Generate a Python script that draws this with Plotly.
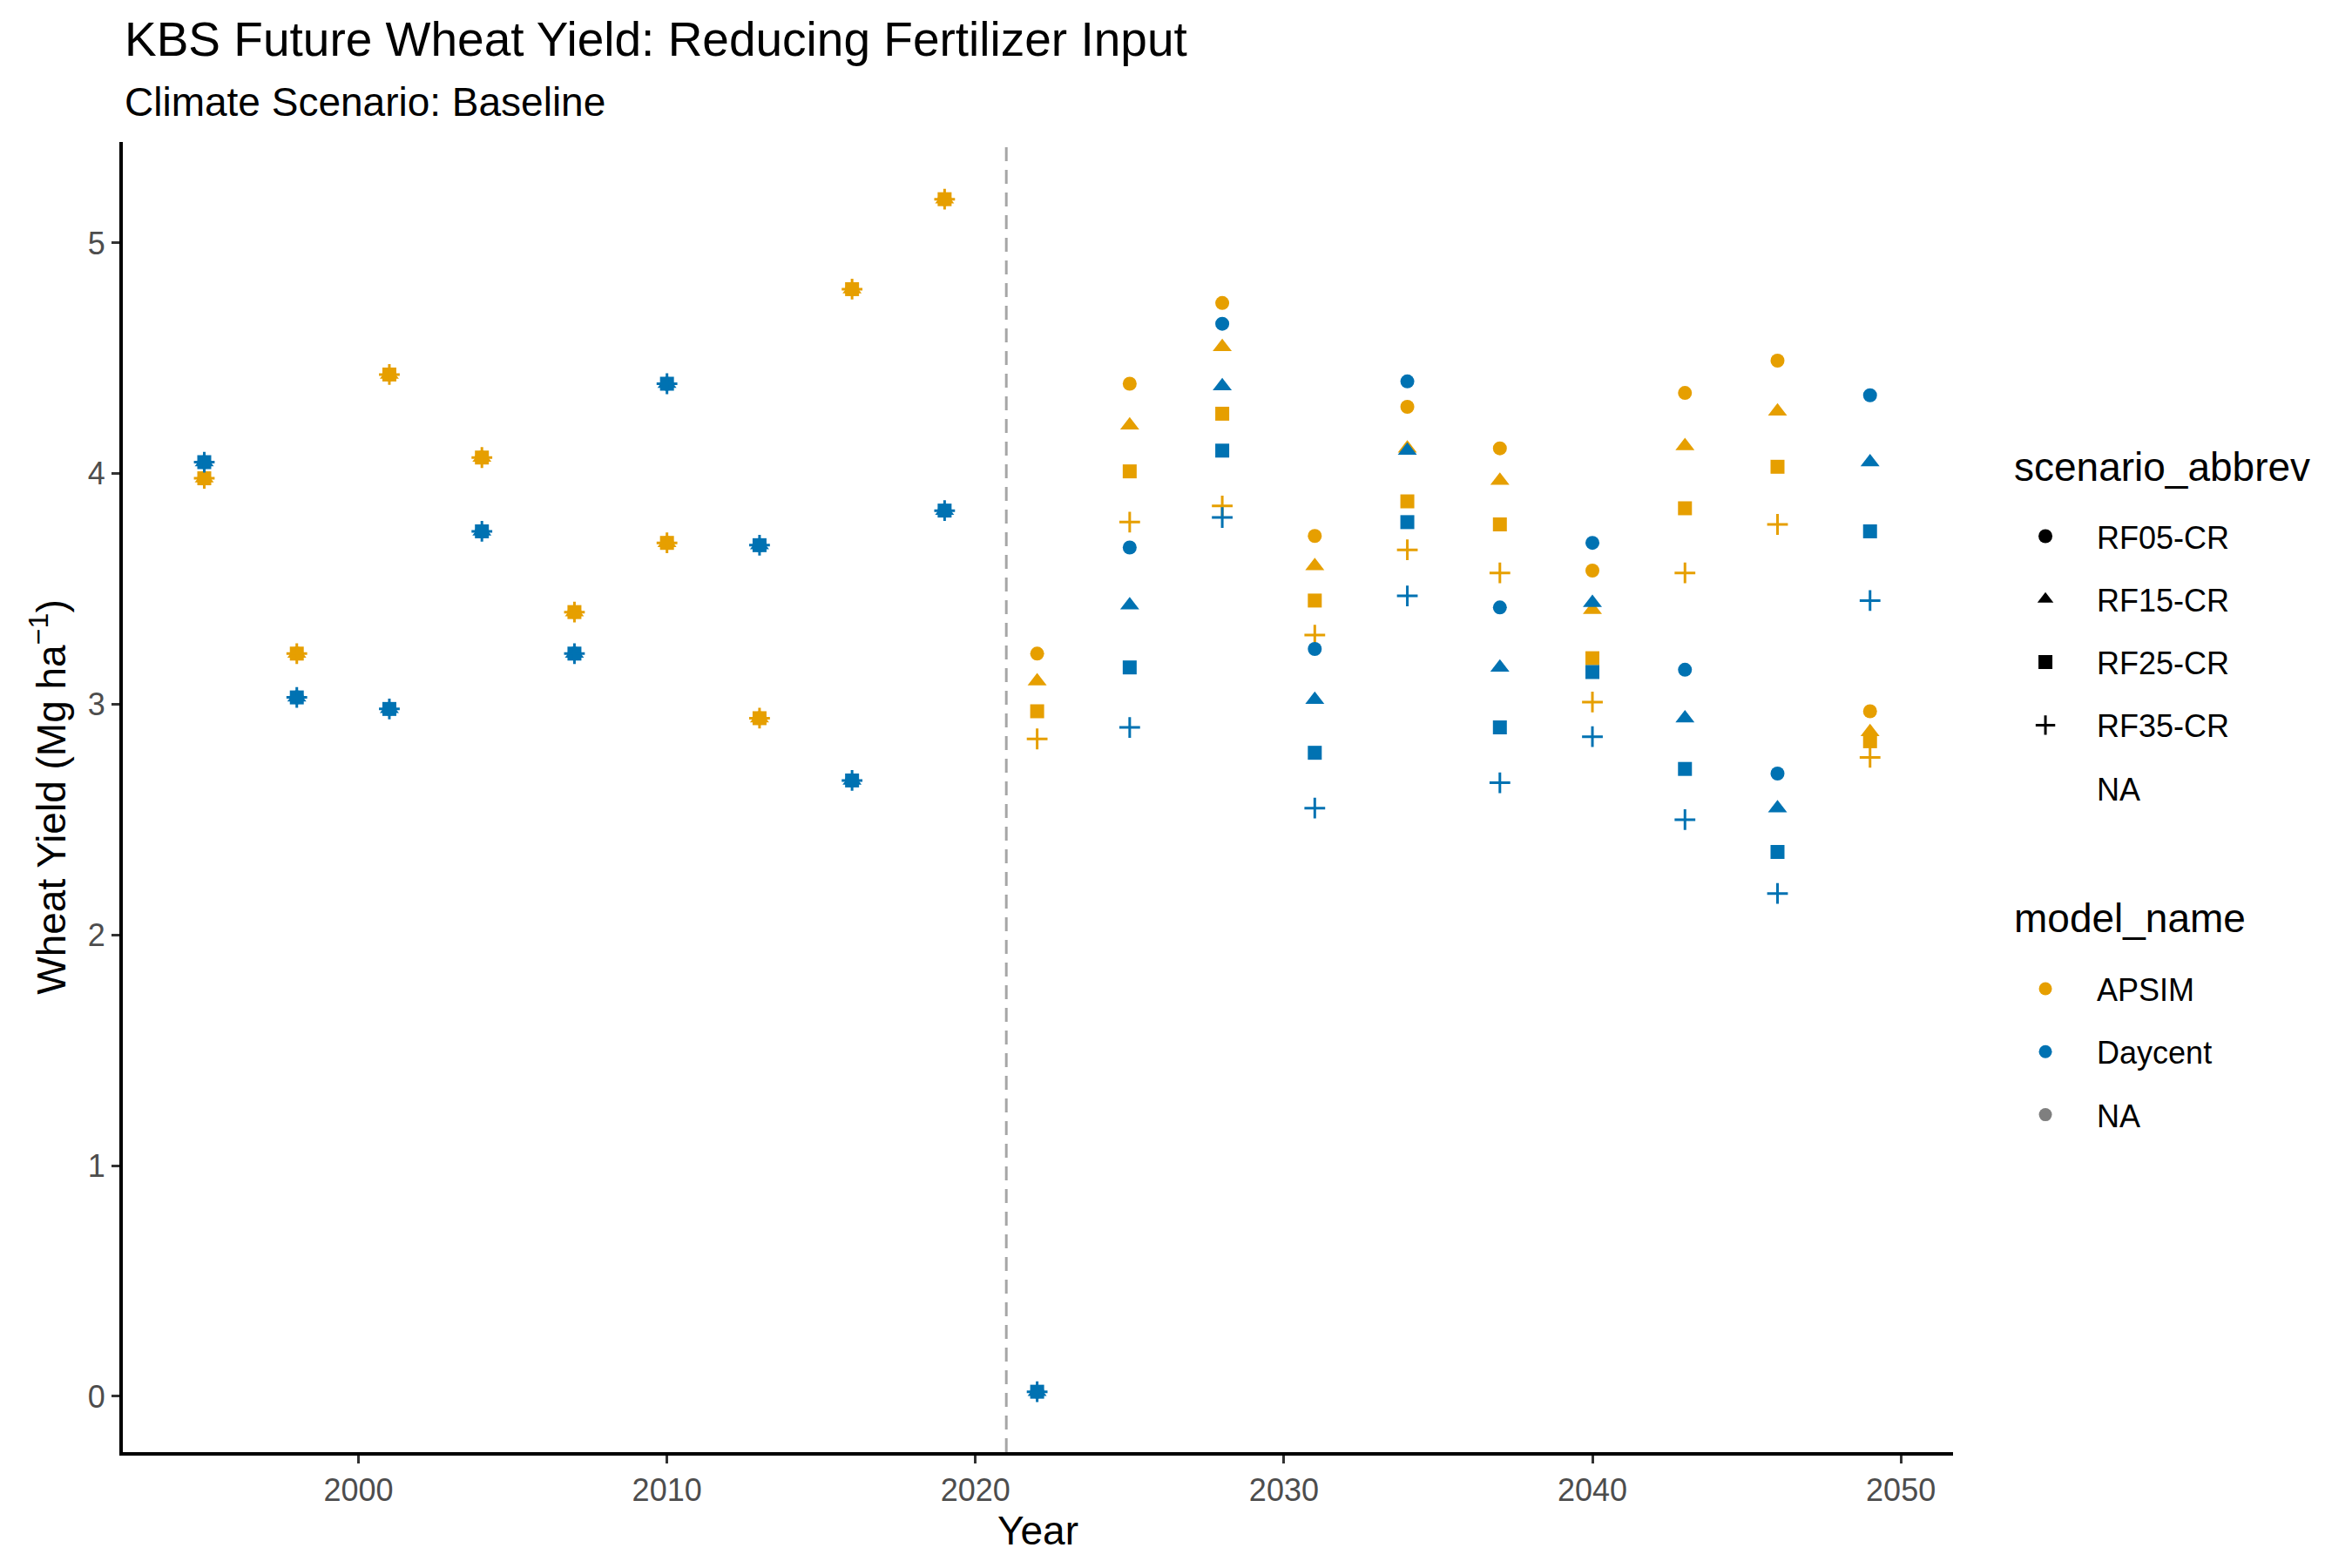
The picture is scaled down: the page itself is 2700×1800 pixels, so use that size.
import plotly.graph_objects as go

# observed / historical years (same for every scenario)
hist_years = [1995, 1998, 2001, 2004, 2007, 2010, 2013, 2016, 2019]
apsim_hist = [3.98, 3.22, 4.43, 4.07, 3.40, 3.70, 2.94, 4.80, 5.19]
daycent_hist = [4.05, 3.03, 2.98, 3.75, 3.22, 4.39, 3.69, 2.67, 3.84]

# future years
fut_years = [2022, 2025, 2028, 2031, 2034, 2037, 2040, 2043, 2046, 2049]

scenarios = ['RF05-CR', 'RF15-CR', 'RF25-CR', 'RF35-CR']

apsim_fut = {
    'RF05-CR': [3.22, 4.39, 4.74, 3.73, 4.29, 4.11, 3.58, 4.35, 4.49, 2.97],
    'RF15-CR': [3.10, 4.21, 4.55, 3.60, 4.11, 3.97, 3.41, 4.12, 4.27, 2.88],
    'RF25-CR': [2.97, 4.01, 4.26, 3.45, 3.88, 3.78, 3.20, 3.85, 4.03, 2.84],
    'RF35-CR': [2.85, 3.79, 3.86, 3.30, 3.67, 3.57, 3.01, 3.57, 3.78, 2.77],
}
daycent_fut = {
    'RF05-CR': [0.02, 3.68, 4.65, 3.24, 4.40, 3.42, 3.70, 3.15, 2.70, 4.34],
    'RF15-CR': [0.02, 3.43, 4.38, 3.02, 4.10, 3.16, 3.44, 2.94, 2.55, 4.05],
    'RF25-CR': [0.02, 3.16, 4.10, 2.79, 3.79, 2.90, 3.14, 2.72, 2.36, 3.75],
    'RF35-CR': [0.02, 2.90, 3.81, 2.55, 3.47, 2.66, 2.86, 2.50, 2.18, 3.45],
}

model_names = ['APSIM', 'Daycent', 'NA']
model_colors = {'APSIM': '#E69F00', 'Daycent': '#0072B2', 'NA': '#7F7F7F'}
symbols = {'RF05-CR': 'circle', 'RF15-CR': 'triangle-up',
           'RF25-CR': 'square', 'RF35-CR': 'cross-thin-open'}
sizes = {'RF05-CR': 16, 'RF15-CR': 19, 'RF25-CR': 16, 'RF35-CR': 17}
line_w = {'RF05-CR': 0, 'RF15-CR': 0, 'RF25-CR': 0, 'RF35-CR': 3}

FONT = 'Liberation Sans, Arial, sans-serif'

fig = go.Figure()

# data points: each model x scenario, historical + future
for model, hist, fut in [('APSIM', apsim_hist, apsim_fut),
                         ('Daycent', daycent_hist, daycent_fut)]:
    for sc in scenarios:
        fig.add_trace(go.Scatter(
            x=hist_years + fut_years,
            y=hist + fut[sc],
            mode='markers',
            marker=dict(symbol=symbols[sc], size=sizes[sc], color=model_colors[model],
                        line=dict(width=line_w[sc], color=model_colors[model])),
            showlegend=False,
        ))

# legend for shapes (own group per item so spacing can be set)
for i, sc in enumerate(scenarios + ['NA']):
    is_na = sc == 'NA'
    fig.add_trace(go.Scatter(
        x=[None], y=[None], mode='markers', name=sc,
        marker=dict(symbol=symbols.get(sc, 'circle'), size=sizes.get(sc, 14),
                    color='rgba(0,0,0,0)' if is_na else 'black',
                    line=dict(width=0 if is_na else line_w[sc], color='black')),
        legend='legend', legendgroup='s%d' % i,
    ))

# legend for colours
for i, m in enumerate(model_names):
    fig.add_trace(go.Scatter(
        x=[None], y=[None], mode='markers', name=m,
        marker=dict(symbol='circle', size=15, color=model_colors[m]),
        legend='legend2', legendgroup='m%d' % i,
    ))

# vertical dashed line at start of projection period
fig.add_vline(x=2021, line=dict(color='#A6A6A6', width=3, dash='16px,10px'))

# titles and legend titles
fig.add_annotation(text='KBS Future Wheat Yield: Reducing Fertilizer Input',
                   xref='paper', yref='paper', x=0, y=1.0785, xanchor='left', yanchor='middle',
                   showarrow=False, font=dict(family=FONT, size=55, color='black'))
fig.add_annotation(text='Climate Scenario: Baseline',
                   xref='paper', yref='paper', x=0, y=1.0303, xanchor='left', yanchor='middle',
                   showarrow=False, font=dict(family=FONT, size=46, color='black'))
fig.add_annotation(text='scenario_abbrev',
                   xref='paper', yref='paper', x=1.0325, y=0.752, xanchor='left', yanchor='middle',
                   showarrow=False, font=dict(family=FONT, size=46, color='black'))
fig.add_annotation(text='model_name',
                   xref='paper', yref='paper', x=1.0325, y=0.4076, xanchor='left', yanchor='middle',
                   showarrow=False, font=dict(family=FONT, size=46, color='black'))

# page body has an 8px margin, so margins are shifted to keep the plot area in place
fig.update_layout(
    width=2700, height=1800,
    paper_bgcolor='white', plot_bgcolor='white',
    margin=dict(l=133, r=466, t=155, b=141),
    font=dict(family=FONT, size=36, color='black'),
    xaxis=dict(
        range=[1992.36, 2051.69], tickvals=[2000, 2010, 2020, 2030, 2040, 2050],
        showgrid=False, zeroline=False, showline=True, linecolor='black', linewidth=4,
        ticks='outside', ticklen=9, tickwidth=3, tickcolor='#333333',
        tickfont=dict(size=36, color='#4D4D4D'),
        title=dict(text='Year', font=dict(size=46, color='black'), standoff=6),
    ),
    yaxis=dict(
        range=[-0.242, 5.438], tickvals=[0, 1, 2, 3, 4, 5],
        showgrid=False, zeroline=False, showline=True, linecolor='black', linewidth=4,
        ticks='outside', ticklen=9, tickwidth=3, tickcolor='#333333',
        tickfont=dict(size=36, color='#4D4D4D'),
        title=dict(text='Wheat Yield (Mg ha<sup>−1</sup>)', font=dict(size=46, color='black'), standoff=12),
    ),
    legend=dict(
        x=1.0224, y=0.719, xanchor='left', yanchor='top',
        font=dict(size=36), tracegroupgap=22.5, itemwidth=108,
        bgcolor='rgba(0,0,0,0)',
    ),
    legend2=dict(
        x=1.0224, y=0.3736, xanchor='left', yanchor='top',
        font=dict(size=36), tracegroupgap=22.5, itemwidth=108,
        bgcolor='rgba(0,0,0,0)',
    ),
)

fig.write_html("out.html")
